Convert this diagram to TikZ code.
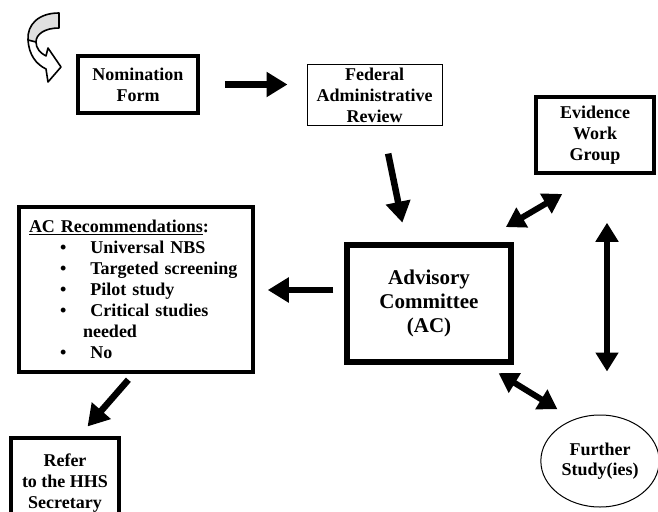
\documentclass[tikz,border=0pt]{standalone}
\usepackage{fontspec}
\setmainfont{Liberation Serif}
\usetikzlibrary{arrows.meta,calc,positioning,shapes.geometric}
\tikzset{%
	thinbox/.style  = {draw, rectangle, line width=1pt, align=center, font=\bfseries\fontsize{18}{21}\selectfont},
	thickbox/.style = {thinbox, line width=3.5pt},
	oval/.style     = {draw, ellipse, line width=1pt, align=center, font=\bfseries\fontsize{18}{20}\selectfont},
	arrow/.style    = {line width=6.5pt, -{Triangle[length=21pt,width=24pt]}},
	dblarrow/.style = {line width=6pt, {Triangle[length=19pt,width=22pt]}-{Triangle[length=19pt,width=22pt]}},
}
\begin{document}
\begin{tikzpicture}[x=1pt,y=-1pt]
	\useasboundingbox (0,0) rectangle (658,511);
	
	% curved start arrow
	\fill[white] (59,13) .. controls (38,13) and (27,25) .. (28,40) .. controls (29,55) and (36,64) .. (46,69) -- (48,82) -- (61,67) -- (48,48) -- (46,56) .. controls (40,53) and (36,48) .. (36,42) .. controls (36,34) and (45,28) .. (59,28) -- cycle;
	\fill[gray!25] (59,13) .. controls (38,13) and (27,25) .. (28,40) -- (36,42) .. controls (36,34) and (45,28) .. (59,28) -- cycle;
	\draw[line width=1.6pt, line join=round] (59,13) .. controls (38,13) and (27,25) .. (28,40) .. controls (29,55) and (36,64) .. (46,69) -- (48,82) -- (61,67) -- (48,48) -- (46,56) .. controls (40,53) and (36,48) .. (36,42) .. controls (36,34) and (45,28) .. (59,28) -- cycle;
	\draw[line width=1.6pt] (28,40) -- (36,42);
	
	\node[thickbox, minimum width=120pt, minimum height=57pt] (nom) at (138,84.5) {Nomination\\Form};
	\node[thinbox, minimum width=135pt, minimum height=60pt] (fed) at (374.5,95) {Federal\\Administrative\\Review};
	\node[thickbox, minimum width=118pt, minimum height=76pt] (ewg) at (595,135) {Evidence\\Work\\Group};
	\node[thickbox, line width=5.5pt, minimum width=164pt, minimum height=117pt, font=\bfseries\fontsize{21}{24}\selectfont] (ac) at (429,303.5) {Advisory\\Committee\\(AC)};
	\node[thickbox, text width=214pt, inner xsep=10pt, minimum height=165pt, align=left] (rec) at (136,289.5) {%
		\underline{AC Recommendations}:\\
		\hspace*{31pt}\textbullet\hspace{24pt}Universal NBS\\
		\hspace*{31pt}\textbullet\hspace{24pt}Targeted screening\\
		\hspace*{31pt}\textbullet\hspace{24pt}Pilot study\\
		\hspace*{31pt}\textbullet\hspace{24pt}Critical studies\\
		\hspace*{54pt}needed\\
		\hspace*{31pt}\textbullet\hspace{24pt}No};
	\node[thickbox, minimum width=108pt, minimum height=90pt] (hhs) at (65,483) {Refer\\to the HHS\\Secretary};
	\node[oval, minimum width=114pt, minimum height=92pt] (fs) at (600,461) {Further\\Study(ies)};
	
	\draw[arrow, shorten <=25pt, shorten >=19pt] (nom.east) -- (nom.east -| fed.west);
	\draw[arrow, shorten <=28pt, shorten >=20pt] ($(fed.south)+(8,0)$) -- ($(ac.north)+(-22.6,0)$);
	\draw[dblarrow, shorten <=30pt, shorten >=38pt] ($(ac.north)+(51,0)$) -- (ewg.south);
	\draw[dblarrow, shorten <=48pt, shorten >=43pt] ($(ewg.south)+(12,0)$) -- ($(fs.north)+(7,0)$);
	\draw[dblarrow, shorten <=16pt, shorten >=10pt] ($(ac.south)+(56,0)$) -- ($(fs.north)+(-34,0)$);
	\coordinate (acl) at ($(ac.west)+(0,-13.5)$);
	\draw[arrow, shorten <=11pt, shorten >=13pt] (acl) -- (acl -| rec.east);
	\draw[arrow, shorten <=8pt, shorten >=13pt] ($(rec.south)+(-2.4,0)$) -- ($(hhs.north)+(14,0)$);
\end{tikzpicture}
\end{document}
